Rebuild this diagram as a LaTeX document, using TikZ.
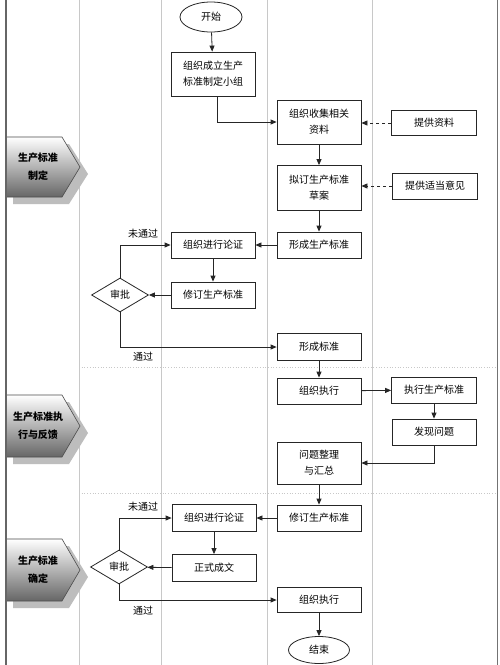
\documentclass[tikz,border=0pt]{standalone}
\usepackage{fontspec}
\setmainfont{Noto Sans CJK SC}
\usetikzlibrary{arrows.meta,shapes.geometric}
\definecolor{lanegray}{HTML}{C8C8C8}
\definecolor{shadowgray}{HTML}{BDBDBD}
\tikzset{
  every node/.style={font=\fontsize{10}{16}\selectfont},
  box/.style={draw=black!85, line width=0.8pt, minimum width=84pt, minimum height=26pt, align=center, inner sep=0pt},
  oval/.style={draw=black!85, line width=0.8pt, ellipse, inner sep=0pt},
  dia/.style={draw=black!85, line width=0.8pt, diamond, inner sep=0pt, minimum width=57pt, minimum height=34pt},
  arr/.style={draw=black!85, line width=0.8pt, -{Triangle[length=6pt,width=5pt]}},
  darr/.style={arr, dashed},
  lane/.style={draw=lanegray, line width=0.7pt},
  sep/.style={draw=lanegray, line width=0.7pt, dotted},
  lbl/.style={font=\fontsize{10}{16}\selectfont},
  lanetext/.style={align=center, font=\bfseries\fontsize{10}{18}\selectfont},
}
\newcommand{\lanetag}[4]{%
  % #1 name, #2 top y, #3 bottom y, #4 text
  \fill[shadowgray] (13,#2+7) -- (69,#2+7) -- (88,{(#2+#3)/2+7}) -- (69,#3+7) -- (13,#3+7) -- cycle;
  \shade[top color=white, bottom color=black!60, draw=black!70, line width=0.6pt]
    (6,#2) -- (62,#2) -- (80,{(#2+#3)/2}) -- (62,#3) -- (6,#3) -- cycle;
  \node[lanetext] (#1) at (38,{(#2+#3)/2}) {#4};
}
\begin{document}
\begin{tikzpicture}[x=1pt,y=-1pt]
\useasboundingbox (0,0) rectangle (500,665);
\fill[white] (0,0) rectangle (500,665);
% lanes
\draw[lane] (79,0) -- (79,665);
\draw[lane] (161,0) -- (161,665);
\draw[lane] (267,0) -- (267,665);
\draw[lane] (372,0) -- (372,665);
\draw[draw=black!55, line width=1pt] (497,0) -- (497,665);
\draw[sep] (79,367) -- (497,367);
\draw[sep] (79,493) -- (497,493);
% lane tags
\lanetag{t1}{137}{197}{生产标准\\制定}
\lanetag{t2}{395}{457}{生产标准执\\行与反馈}
\lanetag{t3}{539}{601}{生产标准\\确定}
\draw[draw=black!60, line width=1.2pt] (6,0) -- (6,665);
% nodes
\node[oval, minimum width=62pt, minimum height=30pt] (start) at (211,17) {开始};
\node[box, minimum height=44pt] (b1) at (213,74) {组织成立生产\\标准制定小组};
\node[box, minimum height=44pt] (b2) at (319,122) {组织收集相关\\资料};
\node[box, minimum width=85pt, minimum height=25pt] (s1) at (434,123) {提供资料};
\node[box, minimum height=45pt] (b3) at (319,188) {拟订生产标准\\草案};
\node[box, minimum width=85pt, minimum height=26pt] (s2) at (435,186) {提供适当意见};
\node[box] (b4) at (319,245) {形成生产标准};
\node[box] (b5) at (213,245) {组织进行论证};
\node[box] (b6) at (213,295) {修订生产标准};
\node[dia] (d1) at (120,295) {审批};
\node[box, minimum height=27pt] (b7) at (319,347) {形成标准};
\node[box] (b8) at (319,391) {组织执行};
\node[box, minimum width=85pt] (b9) at (434,390) {执行生产标准};
\node[box] (b10) at (434,432) {发现问题};
\node[box, minimum height=42pt] (b11) at (319,463) {问题整理\\与汇总};
\node[box] (b12) at (319,518) {修订生产标准};
\node[box, minimum height=27pt] (b13) at (214,518) {组织进行论证};
\node[box, minimum height=27pt] (b14) at (214,568) {正式成文};
\node[dia] (d2) at (119,567) {审批};
\node[box, minimum height=25pt] (b15) at (319,600) {组织执行};
\node[oval, minimum width=61pt, minimum height=27pt] (end) at (319,650) {结束};
% labels
\node[lbl] (l1) at (143,234) {未通过};
\node[lbl] (l2) at (143,357) {通过};
\node[lbl] (l3) at (143,507) {未通过};
\node[lbl] (l4) at (143,611) {通过};
% connectors
\draw[arr] (start) -- (b1);
\draw[arr] ([xshift=4pt]b1.south) |- (b2.west);
\draw[darr] (s1.west) -- (b2.east |- s1.west);
\draw[darr] (s2.west) -- (b3.east |- s2.west);
\draw[arr] (b2) -- (b3);
\draw[arr] (b3) -- (b4);
\draw[arr] (b4) -- (b5);
\draw[arr] (b5) -- (b6);
\draw[arr] (b6) -- (d1);
\draw[arr] (d1.north) |- (b5.west);
\draw[arr] (d1.south) |- (b7.west);
\draw[arr] (b7) -- (b8);
\draw[arr] (b8) -- (b9);
\draw[arr] (b9) -- (b10);
\draw[arr] (b10.south) |- (b11.east);
\draw[arr] (b11) -- (b12);
\draw[arr] (b12) -- (b13);
\draw[arr] (b13) -- (b14);
\draw[arr] (b14) -- (d2);
\draw[arr] (d2.north) |- (b13.west);
\draw[arr] (d2.south) |- (b15.west);
\draw[arr] (b15) -- (end);
\end{tikzpicture}
\end{document}
